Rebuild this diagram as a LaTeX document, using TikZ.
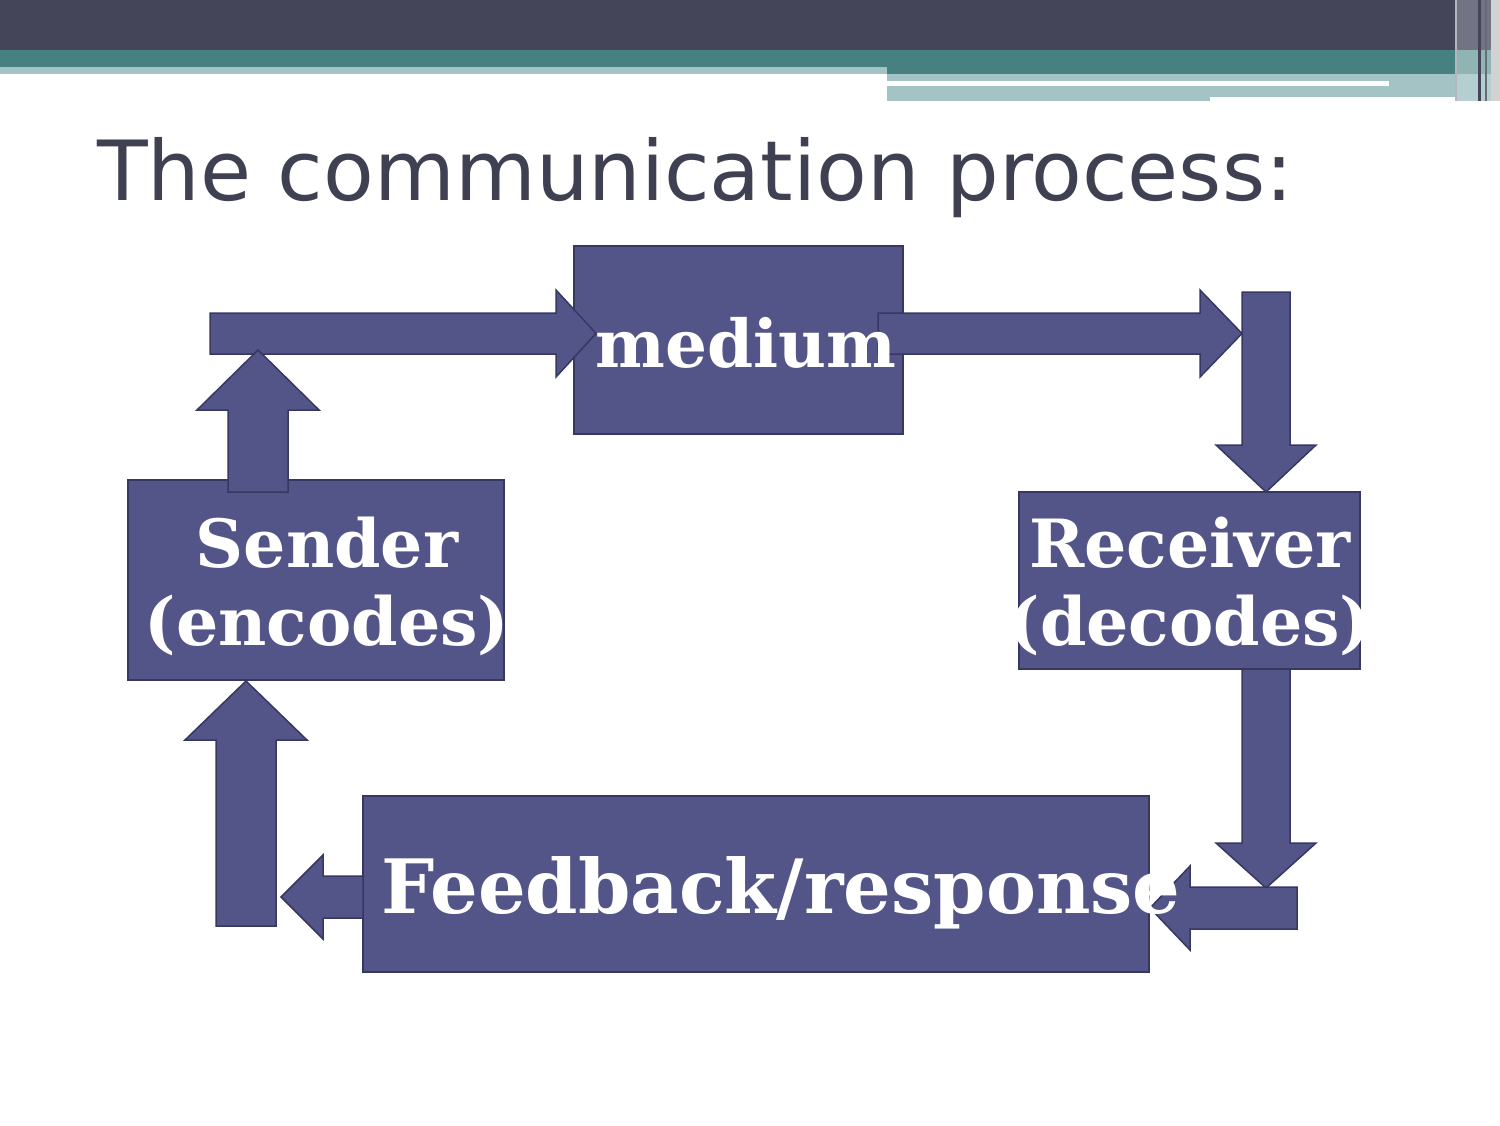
\documentclass[tikz,border=0pt]{standalone}
\usepackage{fontspec}
\setmainfont{DejaVu Serif}
\newfontfamily\titlefont{DejaVu Sans}
\usepackage{tikz}
\usetikzlibrary{calc}

\definecolor{boxfill}{RGB}{83,84,136}
\definecolor{boxline}{RGB}{55,56,98}
\definecolor{barDark}{RGB}{68,69,89}
\definecolor{barTeal}{RGB}{70,128,128}
\definecolor{barLight}{RGB}{163,195,196}
\definecolor{titleGray}{RGB}{63,65,82}

\tikzset{
  box/.style={draw=boxline,fill=boxfill,line width=1.5bp,inner sep=0pt},
  arrowbox/.style={draw=boxline,fill=boxfill,line width=1.5bp,line join=miter},
  lbl/.style={text=white,font=\bfseries,inner sep=0pt,align=center}
}

% 矢印: 始点, 先端, 軸の半幅, 頭の半幅, 頭の長さ
\newcommand{\blockarrow}[5]{%
  \coordinate (ba-n) at ($(#2)!#5!(#1)$);
  \draw[arrowbox]($(#1)!#3!90:(#2)$)--($(ba-n)!#3!90:(#2)$)--($(ba-n)!#4!90:(#2)$)
    --(#2)--($(ba-n)!#4!-90:(#2)$)--($(ba-n)!#3!-90:(#2)$)--($(#1)!#3!-90:(#2)$)--cycle;
}

\begin{document}
\begin{tikzpicture}[x=1bp,y=-1bp]
\useasboundingbox (0,0) rectangle (1500,1125);
\fill[white](0,0) rectangle (1500,1125);

%上の帯
\fill[barDark](0,0) rectangle (1500,50);
\fill[barTeal](0,50) rectangle (1460,67);
\fill[barLight](0,67) rectangle (887,74); %帯左
\fill[barTeal](887,67) rectangle (1460,74); %帯右
\fill[barLight](887,74) rectangle (1460,101);
\fill[white](887,81) rectangle (1389,86);
\fill[white](1210,97) rectangle (1460,101);
%右端の縦線
\fill[barDark!75](1455,0) rectangle (1500,50);
\fill[barTeal!60](1455,50) rectangle (1500,74);
\fill[barLight!80](1455,74) rectangle (1500,101);
\fill[barDark!40](1455,0) rectangle (1457,101);
\fill[barDark](1478,0) rectangle (1481,101);
\fill[barDark!80](1485,0) rectangle (1487,101);
\fill[gray!35](1491,0) rectangle (1500,101);

%タイトル
\node[anchor=base west,inner sep=0pt,text=titleGray,font=\titlefont\fontsize{83bp}{96bp}\selectfont] (title) at (97,200) {The communication process:};

%箱
\node[box,minimum width=329bp,minimum height=188bp] (medium) at (738.5,340) {};
\node[box,minimum width=376bp,minimum height=200bp] (sender) at (316,580) {};
\node[box,minimum width=341bp,minimum height=177bp] (receiver) at (1189.5,580.5) {};
\node[box,minimum width=786bp,minimum height=176bp] (feedback) at (756,884) {};

%矢印の端
\coordinate (s-out) at (258,492);   \coordinate (s-tip) at (258,350);
\coordinate (m-in) at (210,333.5);  \coordinate (m-tip) at (596,333.5);
\coordinate (m-out) at (878,333.5); \coordinate (m-tip2) at (1242,333.5);
\coordinate (r-top) at (1266,292);  \coordinate (r-tip) at (1266,492);
\coordinate (r-out) at (1266,669);  \coordinate (r-tip2) at (1266,888);
\coordinate (f-in) at (1297,908);   \coordinate (f-tip) at (1150,908);
\coordinate (f-out) at (363,897);   \coordinate (f-tip2) at (281,897);
\coordinate (s-in) at (246,926);    \coordinate (s-tip2) at (246,681);

%矢印
\blockarrow{m-in}{m-tip}{20.5bp}{43.5bp}{40bp}
\blockarrow{s-out}{s-tip}{30bp}{61bp}{60bp}
\blockarrow{m-out}{m-tip2}{20.5bp}{43.5bp}{42bp}
\blockarrow{r-top}{r-tip}{24bp}{50bp}{47bp}
\blockarrow{r-out}{r-tip2}{24bp}{50bp}{45bp}
\blockarrow{f-in}{f-tip}{21bp}{42bp}{40bp}
\blockarrow{f-out}{f-tip2}{21bp}{42bp}{42bp}
\blockarrow{s-in}{s-tip2}{30bp}{61bp}{59bp}

%文字
\node[lbl,anchor=base,font=\bfseries\fontsize{66bp}{76bp}\selectfont] (medium-t) at (746,367) {medium};
\node[lbl,anchor=base,font=\bfseries\fontsize{66.5bp}{78bp}\selectfont] (sender-t) at (327,645) {Sender\\(encodes)};
\node[lbl,anchor=base,font=\bfseries\fontsize{66.5bp}{78bp}\selectfont] (receiver-t) at (1190,645) {Receiver\\(decodes)};
\node[lbl,anchor=base,font=\bfseries\fontsize{75bp}{90bp}\selectfont] (feedback-t) at (781,913) {Feedback/response};
\end{tikzpicture}
\end{document}
